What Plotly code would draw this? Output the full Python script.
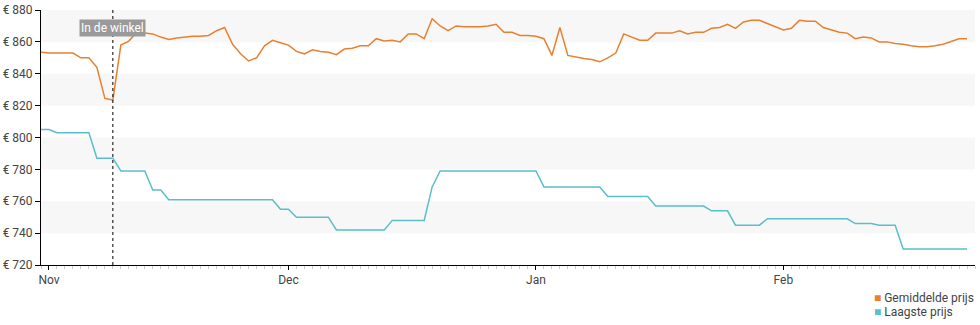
import pandas as pd
import plotly.graph_objects as go

# ---- data ----
start_date = "2015-10-31"
avg_price = [853.5, 853, 853, 853, 853, 850, 850, 844, 824.5, 823.5,
             858, 860.5, 866, 865.5, 865, 863, 861.5, 862.5, 863, 863.5,
             863.5, 864, 867, 869, 858.5, 852.5, 848, 850, 857.5, 861,
             859.5, 858, 854, 852.5, 855, 854, 853.5, 852, 855.5, 856,
             857.5, 857.5, 862, 860.5, 861, 860, 865, 865, 862, 874.5,
             870, 867, 870, 869.5, 869.5, 869.5, 870, 871, 866, 866,
             864, 864, 863.5, 862, 851.5, 869, 851.5, 850.5, 849.5, 849,
             847.5, 850, 853, 865, 863, 861, 861, 865.5, 865.5, 865.5,
             867, 865, 866, 866, 868.5, 869, 871, 868.5, 872.5, 873.5,
             873.5, 871.5, 869.5, 867.5, 868.5, 873.5, 873, 873, 869, 867.5,
             866, 865.5, 862, 863, 862.5, 860, 860, 859, 858.5, 857.5,
             857, 857, 857.5, 858.5, 860.5, 862, 862]
low_price = [805, 805, 803, 803, 803, 803, 803, 787, 787, 787,
             779, 779, 779, 779, 767, 767, 761, 761, 761, 761,
             761, 761, 761, 761, 761, 761, 761, 761, 761, 761,
             755, 755, 750, 750, 750, 750, 750, 742, 742, 742,
             742, 742, 742, 742, 748, 748, 748, 748, 748, 769,
             779, 779, 779, 779, 779, 779, 779, 779, 779, 779,
             779, 779, 779, 769, 769, 769, 769, 769, 769, 769,
             769, 763, 763, 763, 763, 763, 763, 757, 757, 757,
             757, 757, 757, 757, 754, 754, 754, 745, 745, 745,
             745, 749, 749, 749, 749, 749, 749, 749, 749, 749,
             749, 749, 746, 746, 746, 745, 745, 745, 730, 730,
             730, 730, 730, 730, 730, 730, 730]
series_names = ["Gemiddelde prijs", "Laagste prijs"]
series_colors = ["#E9802F", "#5BBEC8"]
marker_date = "2015-11-09"
marker_label = "In de winkel"
y_ticks = [720, 740, 760, 780, 800, 820, 840, 860, 880]
y_tick_text = ["€ " + str(v) for v in y_ticks]
bands = [(860, 880), (820, 840), (780, 800), (740, 760)]
x_range = ["2015-10-31", "2016-02-25"]

dates = pd.date_range(start_date, periods=len(avg_price), freq="D")

fig = go.Figure()

for lo, hi in bands:
    fig.add_shape(type="rect", xref="paper", yref="y", x0=0, x1=1, y0=lo, y1=hi,
                  fillcolor="#F7F7F7", line_width=0, layer="below")

legend_ids = ["legend", "legend2"]
for vals, name, col, lid in zip([avg_price, low_price], series_names,
                                series_colors, legend_ids):
    fig.add_trace(go.Scatter(x=dates, y=vals, mode="lines", name=name,
                             line=dict(color=col, width=1.5), showlegend=False,
                             hoverinfo="x+y"))
    fig.add_trace(go.Scatter(x=[None], y=[None], mode="markers",
                             name=f"<span style='color:{col}'>■</span> {name}",
                             marker=dict(symbol="square", size=0.1, color="rgba(0,0,0,0)"),
                             showlegend=True, legend=lid))

fig.add_shape(type="line", xref="x", yref="paper", x0=marker_date, x1=marker_date,
              y0=0, y1=1, line=dict(color="#000000", width=1, dash="dot"))
fig.add_annotation(x=marker_date, xref="x", y=0.965, yref="paper",
                   text=marker_label, showarrow=False,
                   font=dict(family="Roboto", size=12, color="#FFFFFF"),
                   bgcolor="#9A9A9A", borderpad=1)

legend_common = dict(xref="paper", x=0.849, xanchor="left", yref="container",
                     yanchor="middle", font=dict(size=12, color="#444444"),
                     itemwidth=30, bgcolor="rgba(0,0,0,0)")

fig.update_layout(
    width=980, height=325,
    margin=dict(l=41, r=5, t=10, b=60, autoexpand=False),
    paper_bgcolor="#FFFFFF", plot_bgcolor="#FFFFFF",
    font=dict(family="Roboto", size=12, color="#444444"),
    legend=dict(y=(325 - 297) / 325, **legend_common),
    legend2=dict(y=(325 - 311) / 325, **legend_common),
    xaxis=dict(type="date", range=x_range, dtick="M1", tickformat="%b",
               showgrid=False, zeroline=False, showline=True, linecolor="#000000",
               linewidth=1, ticks="outside", ticklen=4, tickcolor="#000000",
               tickfont=dict(size=12, color="#444444"), automargin=False,
               minor=dict(dtick=86400000, ticks="outside", ticklen=3,
                          tickcolor="#CCCCCC", showgrid=False)),
    yaxis=dict(range=[720, 880], tickmode="array", tickvals=y_ticks,
               ticktext=y_tick_text, automargin=False,
               showgrid=False, zeroline=False, showline=True, linecolor="#000000",
               linewidth=1, ticks="outside", ticklen=5, tickcolor="#000000",
               tickfont=dict(size=12, color="#444444")),
)

fig.write_html("out.html")
